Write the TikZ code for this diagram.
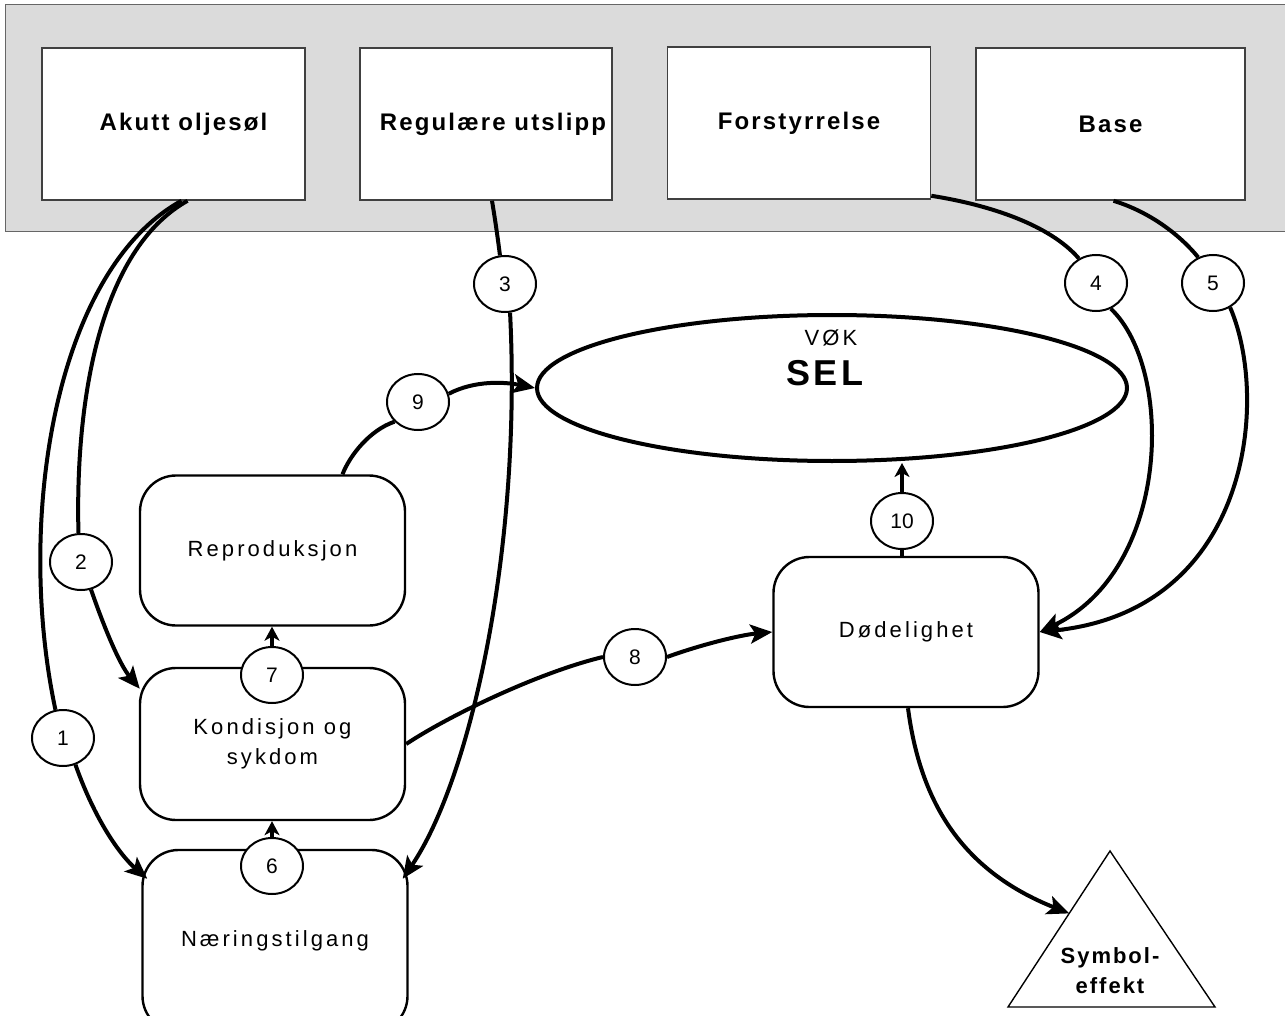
\documentclass[tikz,border=0pt]{standalone}
\usepackage{fontspec}
\setmainfont{Liberation Sans}
\newfontfamily\spaced[LetterSpace=14]{Liberation Sans}
\newfontfamily\spacedb[LetterSpace=9]{Liberation Sans}
\usetikzlibrary{arrows.meta,calc,shapes.geometric}
\begin{document}
\begin{tikzpicture}[x=0.5pt,y=-0.5pt,
  topbox/.style={draw=black!75, line width=0.8pt, fill=white, minimum width=131.5pt, minimum height=76pt, inner sep=0pt, font=\spacedb\bfseries\fontsize{12}{14}\selectfont},
  rbox/.style={draw, line width=1.2pt, rounded corners=18pt, fill=white, minimum width=132.5pt, minimum height=75pt, inner sep=0pt, align=center, font=\spaced\fontsize{11}{15}\selectfont},
  num/.style={draw, ellipse, line width=1pt, fill=white, minimum width=31pt, minimum height=28pt, inner sep=0pt, font=\fontsize{10.5}{12}\selectfont},
  conn/.style={line width=2pt},
  arr/.style={conn, -{Stealth[length=11pt,width=9.5pt,inset=2.5pt]}},
  sarr/.style={conn, -{Stealth[length=7pt,width=7.5pt,inset=2pt]}}
]
\useasboundingbox (0,0) rectangle (1285,1016);
\clip (0,0) rectangle (1285,1016);
% band
\draw[fill=black!14, draw=black!60, line width=0.5pt] (5,5) rectangle (1295,232);
% top boxes
\node[topbox] (a1) at (173.5,124) {\hspace*{10pt}Akutt oljesøl};
\node[topbox, minimum width=126pt] (a2) at (486,124) {\hspace*{7pt}Regulære utslipp};
\node[topbox] (a3) at (799,123) {Forstyrrelse};
\node[topbox, minimum width=134.5pt] (a4) at (1110.5,124) {Base};
% ellipse
\node[draw, ellipse, line width=2pt, fill=white, minimum width=295pt, minimum height=73pt, inner sep=0pt] (ell) at (832,388) {};
\node[font=\spaced\fontsize{11}{13}\selectfont] (vok) at (831,338) {VØK};
\node[font=\spacedb\bfseries\fontsize{18}{20}\selectfont] (sel) at (825,373) {SEL};
% rounded boxes
\node[rbox] (rep) at (272.5,550.5) {Reproduksjon};
\node[rbox, minimum height=76pt] (kon) at (272.5,744) {Kondisjon og\\sykdom};
\node[rbox, minimum height=91pt] (nae) at (275,941) {Næringstilgang};
\node[rbox, minimum height=75pt] (dod) at (906,632) {Dødelighet};
% triangle
\coordinate (tA) at (1110,851);
\coordinate (tB) at (1008,1007);
\coordinate (tC) at (1215,1007);
\draw[line width=0.7pt] (tA) -- (tB) -- (tC) -- cycle;
\node[font=\spacedb\bfseries\fontsize{11}{15}\selectfont, align=center] (sym) at (1110,971) {Symbol-\\effekt};
% number circles
\node[num] (c1) at (63,738) {1};
\node[num] (c2) at (81,562) {2};
\node[num] (c3) at (505,284) {3};
\node[num] (c4) at (1096,283) {4};
\node[num] (c5) at (1213,283) {5};
\node[num] (c6) at (272,866) {6};
\node[num] (c7) at (272,675) {7};
\node[num] (c8) at (635,657) {8};
\node[num] (c9) at (418,402) {9};
\node[num] (c10) at (902,521) {10};
% connectors
\draw[conn] ([xshift=4pt]a1.south) .. controls (55,270) and (15,520) .. (c1.105);
\draw[arr] (c1.-65) .. controls (95,820) and (120,855) .. ([shift={(6,30)}]nae.north west);
\draw[conn] ([xshift=7pt]a1.south) .. controls (100,250) and (75,400) .. (c2.95);
\draw[arr] (c2.-70) .. controls (105,630) and (120,665) .. ([shift={(1,22)}]kon.north west);
\draw[conn] ([xshift=3pt]a2.south) .. controls (496,225) and (498,240) .. (c3.100);
\draw[arr] (c3.-80) .. controls (522,550) and (470,780) .. ([shift={(-6,30)}]nae.north east);
\draw[conn] ([shift={(0,-4)}]a3.south east) .. controls (990,205) and (1050,225) .. (c4.125);
\draw[arr] (c4.-60) .. controls (1175,370) and (1170,570) .. (dod.east);
\draw[conn] ([xshift=1.5pt]a4.south) .. controls (1150,212) and (1180,235) .. (c5.120);
\draw[arr] (c5.-55) .. controls (1270,400) and (1250,610) .. (dod.east);
\draw[sarr] (c6.north) -- (c6.north |- kon.south);
\draw[sarr] (c7.north) -- (c7.north |- rep.south);
\draw[conn] (kon.east) .. controls (450,715) and (540,672) .. (c8.west);
\draw[arr] (c8.east) .. controls (700,645) and (740,635) .. (dod.west);
\draw[conn] ([xshift=35pt]rep.north) .. controls (350,455) and (370,430) .. (c9.-140);
\draw[arr] (c9.15) .. controls (475,380) and (505,382) .. (ell.west);
\draw[conn] (c10.south) -- (c10.south |- dod.north);
\draw[sarr] (c10.north) -- (c10.north |- ell.south);
\draw[arr] ([xshift=1pt]dod.south) .. controls (920,800) and (960,870) .. ($(tA)!0.4!(tB)$);
\end{tikzpicture}
\end{document}
